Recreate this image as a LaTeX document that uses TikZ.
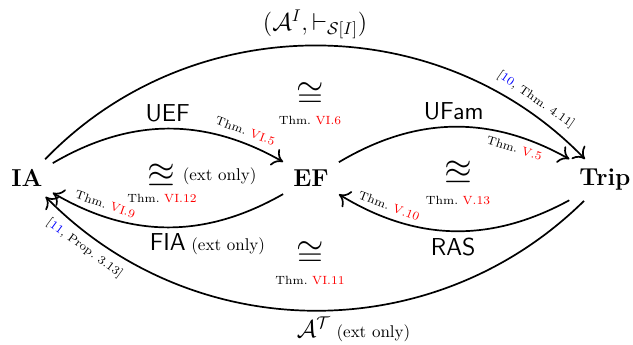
\documentclass[tikz,border=0pt]{standalone}
\usepackage{amsmath,amsfonts,amssymb}
\usepackage{tikz}
\usetikzlibrary{arrows.meta}
\newcommand{\thmref}[1]{Thm.~\textcolor{red}{#1}}
\newcommand{\citeref}[2]{[\textcolor{blue}{#1}, #2]}

\begin{document}
\begin{tikzpicture}[x=0.5882pt, y=0.5882pt,
    obj/.style={font=\Large\bfseries, inner sep=4pt, outer sep=2pt},
    map/.style={line width=1pt, -{Computer Modern Rightarrow[length=6pt, width=11pt]}},
    fun/.style={font=\Large\sffamily},
    ref/.style={font=\scriptsize, sloped, inner sep=4pt},
    iso/.style={font=\huge, inner sep=1pt},
    note/.style={font=\scriptsize, inner sep=1pt}]

                \useasboundingbox (0,0) rectangle (633,-345);

                \node[obj] (IA) at (27,-178) {IA};
                \node[obj] (EF) at (311,-178) {EF};
                \node[obj] (Trip) at (605,-180) {Trip};

                \draw[map] (IA) to[bend left=46]
                    node[above, font=\Large] {$(\mathcal{A}^I,\vdash_{\mathcal{S}[I]})$}
                    node[ref, above, pos=.88] {\citeref{10}{Thm.~4.11}} (Trip);
                \draw[map] (IA) to[bend left=30]
                    node[fun, above] {UEF}
                    node[ref, above, pos=.82] {\thmref{VI.5}} (EF);
                \draw[map] (EF) to[bend left=30]
                    node[fun, above] {UFam}
                    node[ref, below, pos=.78] {\thmref{V.5}} (Trip);
                \draw[map] (EF) to[bend left=30]
                    node[fun, below] {FIA\rlap{\normalsize\rmfamily\ (ext only)}}
                    node[ref, above, pos=.79] {\thmref{VI.9}} (IA);
                \draw[map] (Trip) to[bend left=30]
                    node[fun, below] {RAS}
                    node[ref, above, pos=.8] {\thmref{V.10}} (EF);
                \draw[map] (Trip) to[bend left=45]
                    node[below, font=\Large] {$\mathcal{A}^{\mathcal{T}}$\rlap{\normalsize\ (ext only)}}
                    node[ref, below, pos=.9] {\citeref{11}{Prop.~3.13}} (IA);

                \node[iso] (isoTop) at (310,-95) {$\cong$};
                \node[note] (isoTopRef) at (310,-120) {\thmref{VI.6}};
                \node[iso] (isoBot) at (310,-254) {$\cong$};
                \node[note] (isoBotRef) at (310,-280) {\thmref{VI.11}};
                \node[iso] (eqvLeft) at (161,-176) {$\approxeq$};
                \node[anchor=west] (eqvLeftNote) at (eqvLeft.east) {(ext only)};
                \node[note] (eqvLeftRef) at (162,-198) {\thmref{VI.12}};
                \node[iso] (eqvRight) at (458,-173) {$\approxeq$};
                \node[note] (eqvRightRef) at (458,-200) {\thmref{V.13}};

\end{tikzpicture}
\end{document}
